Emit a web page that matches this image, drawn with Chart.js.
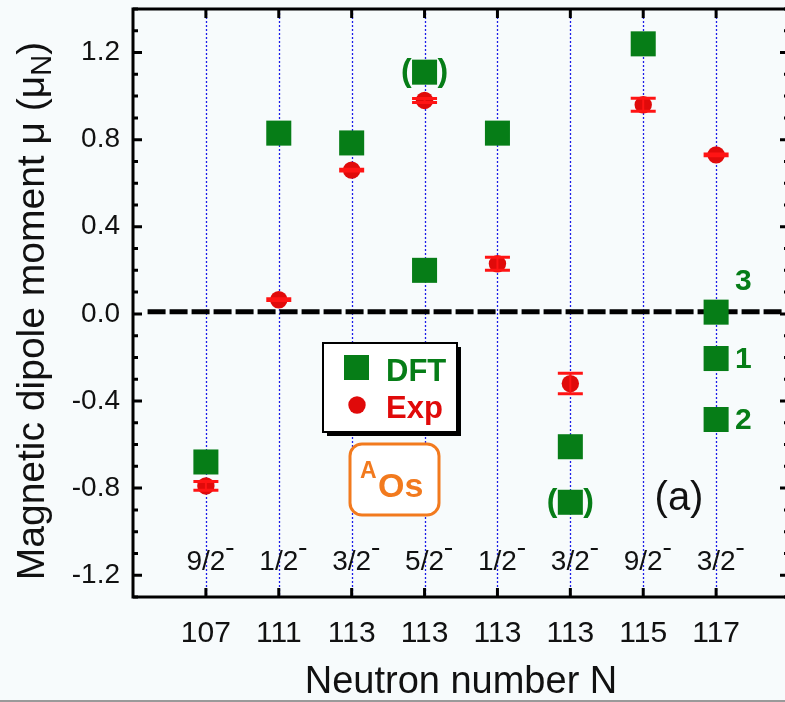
<!DOCTYPE html>
<html>
<head>
<meta charset="utf-8">
<script src="https://cdn.jsdelivr.net/npm/chart.js@4.4.0/dist/chart.umd.min.js"></script>
<style>
  html, body { margin: 0; padding: 0; background: #f7fbfc; overflow: hidden; }
  #wrap { width: 795px; height: 702px; }
</style>
</head>
<body>
<div id="wrap"><canvas id="chartMoment" width="795" height="702"></canvas></div>
<script>
// --- data ---
const neutronNumbers = ['107', '111', '113', '113', '113', '113', '115', '117'];
const spinLabels = ['9/2', '1/2', '3/2', '5/2', '1/2', '3/2', '9/2', '3/2'];
const spinParity = ['-', '-', '-', '-', '-', '-', '-', '-'];

const expValues = [-0.79, 0.065, 0.66, 0.98, 0.23, -0.32, 0.96, 0.73];
const expErrors = [0.02, 0.004, 0.004, 0.009, 0.03, 0.047, 0.03, 0.004];

const dftCategory = [1, 2, 3, 4, 4, 5, 6, 6, 7, 8, 8, 8];
const dftValues = [-0.68, 0.83, 0.785, 1.11, 0.20, 0.83, -0.61, -0.865, 1.24, 0.008, -0.205, -0.485];
const dftTags = ['', '', '', '()', '', '', '', '()', '', '3', '1', '2'];

const yTickValues = [-1.2, -0.8, -0.4, 0.0, 0.4, 0.8, 1.2];
const levelLine = 0.01;

const FONT = "'Liberation Sans', Arial, sans-serif";
const GREEN = '#067d17';
const RED = '#e00a0a';
const ORANGE = '#f27a1e';

// everything the library does not draw by itself
const decorations = {
  id: 'decorations',
  beforeDatasetsDraw(chart) {
    const { ctx, chartArea: a, scales: { x } } = chart;
    ctx.save();
    ctx.strokeStyle = '#1c1ce8';
    ctx.lineWidth = 1.3;
    ctx.setLineDash([2, 2]);
    neutronNumbers.forEach((_, i) => {
      const px = Math.round(x.getPixelForValue(i + 1)) + 0.5;
      ctx.beginPath();
      ctx.moveTo(px, a.top);
      ctx.lineTo(px, a.bottom);
      ctx.stroke();
    });
    ctx.restore();
  },
  afterDatasetsDraw(chart) {
    const { ctx, chartArea: a, scales: { x, y } } = chart;
    ctx.save();

    // error bars of the experiment
    ctx.strokeStyle = '#ff1414';
    expValues.forEach((v, i) => {
      const px = x.getPixelForValue(i + 1);
      const yt = y.getPixelForValue(v + expErrors[i]);
      const yb = y.getPixelForValue(v - expErrors[i]);
      ctx.lineWidth = 2;
      ctx.beginPath(); ctx.moveTo(px, yt); ctx.lineTo(px, yb); ctx.stroke();
      ctx.lineWidth = 3;
      ctx.beginPath();
      ctx.moveTo(px - 12.5, yt); ctx.lineTo(px + 12.5, yt);
      ctx.moveTo(px - 12.5, yb); ctx.lineTo(px + 12.5, yb);
      ctx.stroke();
    });

    // frame
    ctx.strokeStyle = '#000';
    ctx.lineWidth = 3;
    ctx.strokeRect(a.left, a.top, a.right - a.left, a.bottom - a.top);

    // inward ticks
    ctx.lineWidth = 3;
    ctx.beginPath();
    neutronNumbers.forEach((_, i) => {
      const px = x.getPixelForValue(i + 1);
      ctx.moveTo(px, a.bottom); ctx.lineTo(px, a.bottom - 9);
      ctx.moveTo(px, a.top); ctx.lineTo(px, a.top + 9);
    });
    for (let k = -13; k <= 14; k++) {
      const py = y.getPixelForValue(k / 10);
      const len = (k % 4 === 0) ? 9 : 5;
      ctx.moveTo(a.left, py); ctx.lineTo(a.left + len, py);
      ctx.moveTo(a.right, py); ctx.lineTo(a.right - len, py);
    }
    ctx.stroke();

    // spin / parity labels inside the plot
    ctx.fillStyle = '#111';
    ctx.textBaseline = 'alphabetic';
    spinLabels.forEach((s, i) => {
      const px = x.getPixelForValue(i + 1);
      ctx.font = `28px ${FONT}`;
      const w = ctx.measureText(s).width;
      ctx.textAlign = 'center';
      ctx.fillText(s, px, a.bottom - 27);
      if (spinParity[i] === '-') ctx.fillRect(px + w / 2 + 1, a.bottom - 49, 7, 2);
    });

    // brackets and state numbers next to DFT squares
    ctx.fillStyle = GREEN;
    dftTags.forEach((t, i) => {
      if (!t) return;
      const px = x.getPixelForValue(dftCategory[i]);
      let py = y.getPixelForValue(dftValues[i]);
      ctx.textBaseline = 'middle';
      if (t === '()') {
        ctx.font = `bold 32px ${FONT}`;
        ctx.textAlign = 'right';
        ctx.fillText('(', px - 13, py);
        ctx.textAlign = 'left';
        ctx.fillText(')', px + 13, py);
      } else {
        if (Math.abs(dftValues[i] - levelLine) < 0.05) py -= 31;
        ctx.font = `bold 30px ${FONT}`;
        ctx.textAlign = 'left';
        ctx.fillText(t, px + 19, py + 1);
      }
    });

    // legend box
    const lx = 323, ly = 343, lw = 134, lh = 89;
    ctx.fillStyle = '#000';
    ctx.fillRect(lx + 4, ly + 4, lw, lh);
    ctx.fillStyle = '#fff';
    ctx.fillRect(lx, ly, lw, lh);
    ctx.lineWidth = 2;
    ctx.strokeStyle = '#000';
    ctx.strokeRect(lx, ly, lw, lh);
    const dsDft = chart.data.datasets[1];
    const dsExp = chart.data.datasets[2];
    ctx.fillStyle = dsDft.backgroundColor;
    ctx.fillRect(lx + 21, ly + 12, 25, 25);
    ctx.fillStyle = dsExp.backgroundColor;
    ctx.beginPath(); ctx.arc(lx + 34, ly + 62, 8.7, 0, Math.PI * 2); ctx.fill();
    ctx.font = `bold 31px ${FONT}`;
    ctx.textAlign = 'left';
    ctx.textBaseline = 'alphabetic';
    ctx.fillStyle = dsDft.backgroundColor;
    ctx.fillText(dsDft.label, lx + 63, ly + 38);
    ctx.fillStyle = dsExp.backgroundColor;
    ctx.fillText(dsExp.label, lx + 63, ly + 75);

    // isotope box
    ctx.strokeStyle = ORANGE;
    ctx.lineWidth = 3;
    ctx.fillStyle = '#fff';
    ctx.beginPath();
    ctx.roundRect(350, 444, 89, 71, 12);
    ctx.fill(); ctx.stroke();
    ctx.fillStyle = ORANGE;
    ctx.font = `bold 23px ${FONT}`;
    ctx.fillText('A', 360, 478);
    ctx.font = `bold 34px ${FONT}`;
    ctx.fillText('Os', 378, 497);

    // panel label
    ctx.fillStyle = '#111';
    ctx.font = `40px ${FONT}`;
    ctx.textAlign = 'center';
    ctx.fillText('(a)', 679, 510);

    // y axis title with subscript
    ctx.translate(44, 311);
    ctx.rotate(-Math.PI / 2);
    ctx.textAlign = 'left';
    const main = 'Magnetic dipole moment \u03bc (\u03bc';
    ctx.font = `39px ${FONT}`;
    const w1 = ctx.measureText(main).width;
    ctx.font = `29px ${FONT}`;
    const w2 = ctx.measureText('N').width;
    ctx.font = `39px ${FONT}`;
    const w3 = ctx.measureText(')').width;
    const sx = -(w1 + w2 + w3) / 2;
    ctx.fillText(main, sx, 0);
    ctx.font = `29px ${FONT}`;
    ctx.fillText('N', sx + w1, 7);
    ctx.font = `39px ${FONT}`;
    ctx.fillText(')', sx + w1 + w2, 0);
    ctx.restore();

    // thin grey edge at the bottom of the picture
    ctx.fillStyle = '#9a9a9a';
    ctx.fillRect(0, 700, chart.width, 2);
  }
};

const ctxMoment = document.getElementById('chartMoment').getContext('2d');
new Chart(ctxMoment, {
  data: {
    datasets: [
      {
        type: 'line',
        label: 'level',
        data: [{ x: 0.2, y: levelLine }, { x: 9, y: levelLine }],
        borderColor: '#000',
        borderWidth: 5,
        borderDash: [18, 4],
        pointRadius: 0,
        order: 3
      },
      {
        type: 'scatter',
        label: 'DFT',
        data: dftCategory.map((c, i) => ({ x: c, y: dftValues[i] })),
        pointStyle: 'rect',
        pointRadius: 17.7,
        pointHoverRadius: 17.7,
        backgroundColor: GREEN,
        borderColor: GREEN,
        borderWidth: 0,
        order: 2
      },
      {
        type: 'scatter',
        label: 'Exp',
        data: expValues.map((v, i) => ({ x: i + 1, y: v })),
        pointStyle: 'circle',
        pointRadius: 8.7,
        pointHoverRadius: 8.7,
        backgroundColor: RED,
        borderColor: RED,
        borderWidth: 0,
        order: 1
      }
    ]
  },
  options: {
    responsive: false,
    devicePixelRatio: 1,
    animation: false,
    layout: { autoPadding: false, padding: { left: 0, top: 9, right: 6, bottom: 0 } },
    plugins: {
      legend: { display: false },
      tooltip: { enabled: false }
    },
    scales: {
      x: {
        type: 'linear',
        position: 'bottom',
        min: 0,
        max: 9,
        grid: { display: false, drawTicks: false },
        border: { display: false },
        afterBuildTicks: (s) => { s.ticks = neutronNumbers.map((_, i) => ({ value: i + 1 })); },
        afterFit: (s) => { s.height = 105; s.paddingLeft = 0; s.paddingRight = 0; },
        ticks: {
          autoSkip: false,
          maxRotation: 0,
          padding: 19,
          color: '#111',
          font: { family: FONT, size: 30 },
          callback: (v) => neutronNumbers[v - 1]
        },
        title: {
          display: true,
          text: 'Neutron number N',
          color: '#111',
          font: { family: FONT, size: 38, lineHeight: 1 },
          padding: { top: 0, bottom: 0 }
        }
      },
      y: {
        type: 'linear',
        min: -1.3,
        max: 1.4,
        grid: { display: false, drawTicks: false },
        border: { display: false },
        afterBuildTicks: (s) => { s.ticks = yTickValues.map((v) => ({ value: v })); },
        afterFit: (s) => { s.width = 133; s.paddingTop = 0; s.paddingBottom = 0; },
        ticks: {
          padding: 13,
          color: '#111',
          font: { family: FONT, size: 28 },
          callback: (v) => v.toFixed(1)
        }
      }
    }
  },
  plugins: [decorations]
});
</script>
</body>
</html>
